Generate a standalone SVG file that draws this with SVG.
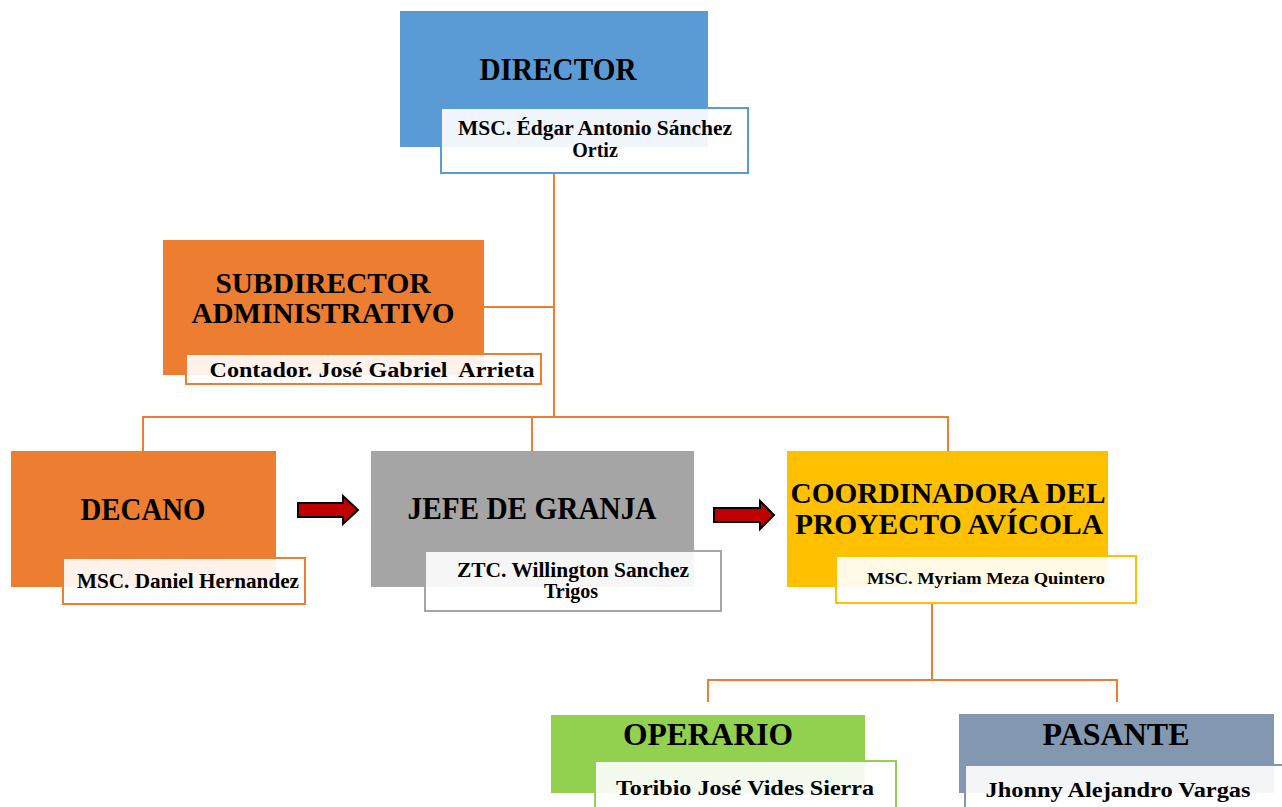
<svg xmlns="http://www.w3.org/2000/svg" width="1282" height="807" viewBox="0 0 1282 807">
<style>
.t{font-family:"Liberation Serif","Times New Roman",serif;font-weight:bold;fill:#000;text-anchor:middle}
.h{font-size:31px}
.h2{font-size:29px}
.s{font-size:20px}
.lab{fill:#fff;fill-opacity:0.9;stroke-width:2}
.con{fill:none;stroke:#ED7D31;stroke-width:2}
.arr{fill:#C00000;stroke:#000;stroke-width:2}
</style>
<rect width="1282" height="807" fill="#fff"/>
<g id="connectors">
<path class="con" d="M554 173V417M484 307H554M143 451V417H948V451M532 417V451"/>
<path class="con" d="M932 603V680M708 702V680H1117V702"/>
<path class="arr" d="M298 503H343V496L358 510L343 524V517H298Z"/>
<path class="arr" d="M714 508H760V501L774 515L760 529V522H714Z"/>
</g>
<g id="director">
<rect x="400" y="11" width="308" height="136" fill="#5B9BD5"/>
<text class="t h" x="558" y="80" textLength="157" lengthAdjust="spacingAndGlyphs">DIRECTOR</text>
<rect class="lab" x="441" y="108" width="307" height="65" stroke="#5B9BD5"/>
<text class="t s" x="595" y="135" textLength="274" lengthAdjust="spacingAndGlyphs">MSC. Édgar Antonio Sánchez</text>
<text class="t s" x="595" y="157">Ortiz</text>
</g>
<g id="subdirector">
<rect x="163" y="240" width="321" height="135" fill="#ED7D31"/>
<text class="t h2" x="323" y="293" textLength="215" lengthAdjust="spacingAndGlyphs">SUBDIRECTOR</text>
<text class="t h2" x="323" y="323" textLength="263" lengthAdjust="spacingAndGlyphs">ADMINISTRATIVO</text>
<rect class="lab" x="186" y="354" width="355" height="30" stroke="#ED7D31"/>
<text class="t s" x="372" y="377" textLength="325" lengthAdjust="spacingAndGlyphs" xml:space="preserve">Contador. José Gabriel  Arrieta</text>
</g>
<g id="decano">
<rect x="11" y="451" width="265" height="136" fill="#ED7D31"/>
<text class="t h" x="143" y="520" textLength="125" lengthAdjust="spacingAndGlyphs">DECANO</text>
<rect class="lab" x="63" y="558" width="242" height="46" stroke="#ED7D31"/>
<text class="t s" x="188" y="588" textLength="222" lengthAdjust="spacingAndGlyphs">MSC. Daniel Hernandez</text>
</g>
<g id="jefe">
<rect x="371" y="451" width="323" height="136" fill="#A5A5A5"/>
<text class="t h" x="532" y="519" textLength="249" lengthAdjust="spacingAndGlyphs">JEFE DE GRANJA</text>
<rect class="lab" x="425" y="551" width="296" height="60" stroke="#A5A5A5"/>
<text class="t s" x="573" y="577" textLength="232" lengthAdjust="spacingAndGlyphs">ZTC. Willington Sanchez</text>
<text class="t s" x="571" y="598">Trigos</text>
</g>
<g id="coordinadora">
<rect x="787" y="451" width="321" height="136" fill="#FFC000"/>
<text class="t h2" x="948" y="503" textLength="315" lengthAdjust="spacingAndGlyphs">COORDINADORA DEL</text>
<text class="t h2" x="949" y="534" textLength="308" lengthAdjust="spacingAndGlyphs">PROYECTO AVÍCOLA</text>
<rect class="lab" x="836" y="556" width="300" height="47" stroke="#FFC000"/>
<text class="t" style="font-size:16px" x="986" y="584" textLength="238" lengthAdjust="spacingAndGlyphs">MSC. Myriam Meza Quintero</text>
</g>
<g id="operario">
<rect x="551" y="715" width="314" height="78" fill="#92D050"/>
<text class="t h" x="708" y="745" textLength="170" lengthAdjust="spacingAndGlyphs">OPERARIO</text>
<rect class="lab" x="595" y="761" width="301" height="50" stroke="#92D050"/>
<text class="t s" x="745" y="795" textLength="258" lengthAdjust="spacingAndGlyphs">Toribio José Vides Sierra</text>
</g>
<g id="pasante">
<rect x="959" y="714" width="315" height="79" fill="#8497B0"/>
<text class="t h" x="1116" y="745" textLength="147" lengthAdjust="spacingAndGlyphs">PASANTE</text>
<rect class="lab" x="965" y="765" width="320" height="46" stroke="#8497B0"/>
<text class="t s" x="1118" y="797" textLength="265" lengthAdjust="spacingAndGlyphs">Jhonny Alejandro Vargas</text>
</g>
</svg>
